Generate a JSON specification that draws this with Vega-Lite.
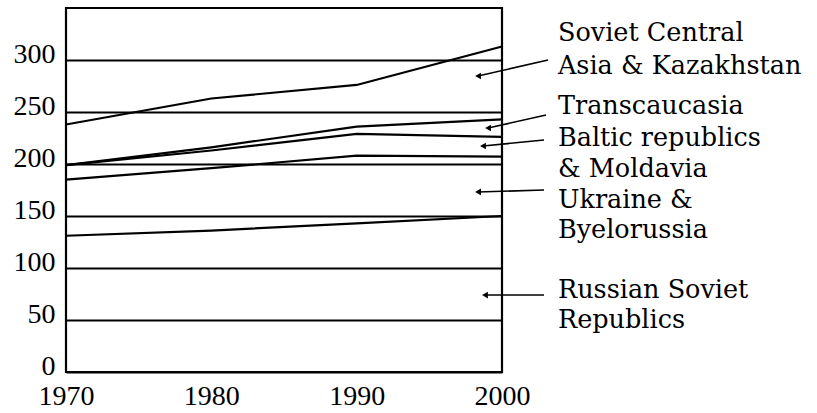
{
  "$schema": "https://vega.github.io/schema/vega-lite/v6.json",
  "width": 436,
  "height": 364,
  "autosize": {"type": "none"},
  "padding": {"left": 66, "top": 8, "right": 315, "bottom": 41},
  "background": "white",
  "config": {
    "view": {"stroke": "black", "strokeWidth": 2.2}
  },
  "datasets": {
    "lines": [
      {"region": "Russian", "year": 1970, "value": 131},
      {"region": "Russian", "year": 1980, "value": 136},
      {"region": "Russian", "year": 1990, "value": 143},
      {"region": "Russian", "year": 2000, "value": 150},
      {"region": "Ukraine", "year": 1970, "value": 185},
      {"region": "Ukraine", "year": 1980, "value": 196},
      {"region": "Ukraine", "year": 1990, "value": 208},
      {"region": "Ukraine", "year": 2000, "value": 207},
      {"region": "Baltic", "year": 1970, "value": 199},
      {"region": "Baltic", "year": 1980, "value": 213},
      {"region": "Baltic", "year": 1990, "value": 229},
      {"region": "Baltic", "year": 2000, "value": 226},
      {"region": "Transcaucasia", "year": 1970, "value": 199},
      {"region": "Transcaucasia", "year": 1980, "value": 216},
      {"region": "Transcaucasia", "year": 1990, "value": 236},
      {"region": "Transcaucasia", "year": 2000, "value": 243},
      {"region": "CentralAsia", "year": 1970, "value": 238},
      {"region": "CentralAsia", "year": 1980, "value": 263},
      {"region": "CentralAsia", "year": 1990, "value": 276},
      {"region": "CentralAsia", "year": 2000, "value": 313}
    ],
    "arrows": [
      {"x1": 2003.17, "y1": 300, "x2": 1998.35, "y2": 284.6},
      {"x1": 2003.03, "y1": 247.1, "x2": 1999.04, "y2": 234.6},
      {"x1": 2002.89, "y1": 223.1, "x2": 1998.69, "y2": 217.3},
      {"x1": 2002.89, "y1": 175, "x2": 1998.35, "y2": 173.1},
      {"x1": 2002.89, "y1": 74, "x2": 1998.83, "y2": 74}
    ],
    "labels": [
      {"text": "Soviet Central", "year": 2003.85, "value": 326},
      {"text": "Asia & Kazakhstan", "year": 2003.85, "value": 294.2},
      {"text": "Transcaucasia", "year": 2003.85, "value": 255.8},
      {"text": "Baltic republics", "year": 2003.85, "value": 225},
      {"text": "& Moldavia", "year": 2003.85, "value": 195.2},
      {"text": "Ukraine &", "year": 2003.85, "value": 165.4},
      {"text": "Byelorussia", "year": 2003.85, "value": 136.5},
      {"text": "Russian Soviet", "year": 2003.85, "value": 78.8},
      {"text": "Republics", "year": 2003.85, "value": 50}
    ]
  },
  "layer": [
    {
      "data": {"name": "lines"},
      "mark": {"type": "line", "color": "black", "strokeWidth": 2.2},
      "encoding": {
        "x": {"field": "year", "type": "quantitative", "scale": {"domain": [1970, 2000], "nice": false, "zero": false},
              "axis": {"values": [1970, 1980, 1990, 2000], "format": "d", "grid": false, "ticks": false, "domain": false, "title": null,
                       "labelFont": "Liberation Serif", "labelFontSize": 28, "labelColor": "black", "labelPadding": 10, "labelFlush": false, "labelOverlap": false, "labelAlign": "center"}},
        "y": {"field": "value", "type": "quantitative", "scale": {"domain": [0, 350], "nice": false},
              "axis": {"values": [0, 50, 100, 150, 200, 250, 300], "grid": true, "gridColor": "black", "gridWidth": 2, "gridOpacity": 1, "ticks": false, "domain": false, "title": null,
                       "labelFont": "Liberation Serif", "labelFontSize": 28, "labelColor": "black", "labelPadding": 11, "labelBaseline": "middle", "labelOffset": -6, "labelOverlap": false, "labelFlush": false}},
        "detail": {"field": "region"}
      }
    },
    {
      "data": {"name": "arrows"},
      "mark": {"type": "rule", "color": "black", "strokeWidth": 1.6},
      "encoding": {
        "x": {"field": "x1", "type": "quantitative"},
        "y": {"field": "y1", "type": "quantitative"},
        "x2": {"field": "x2"},
        "y2": {"field": "y2"}
      }
    },
    {
      "data": {"name": "arrows"},
      "mark": {"type": "point", "shape": "triangle-left", "filled": true, "color": "black", "size": 45, "opacity": 1},
      "encoding": {
        "x": {"field": "x2", "type": "quantitative"},
        "y": {"field": "y2", "type": "quantitative"}
      }
    },
    {
      "data": {"name": "labels"},
      "mark": {"type": "text", "align": "left", "baseline": "middle", "font": "DejaVu Serif", "fontSize": 25.5, "color": "black"},
      "encoding": {
        "x": {"field": "year", "type": "quantitative"},
        "y": {"field": "value", "type": "quantitative"},
        "text": {"field": "text"}
      }
    }
  ]
}
